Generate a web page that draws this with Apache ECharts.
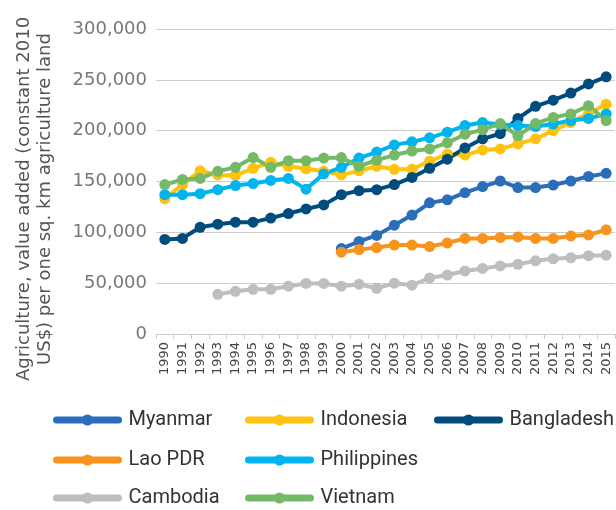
<!DOCTYPE html>
<html>
<head>
<meta charset="utf-8">
<script src="https://cdn.jsdelivr.net/npm/echarts@6/dist/echarts.min.js"></script>
<style>
  html, body { margin: 0; padding: 0; background: #fff; }
  #chart { width: 616px; height: 510px; }
</style>
</head>
<body>
<div id="chart"></div>
<script>
// years on the x axis
var years = ['1990','1991','1992','1993','1994','1995','1996','1997','1998','1999','2000','2001','2002',
             '2003','2004','2005','2006','2007','2008','2009','2010','2011','2012','2013','2014','2015'];

// values (null = no data)
var myanmar = [null,null,null,null,null,null,null,null,null,null,
               84000,91000,97000,107000,117000,129000,132000,139000,145000,150500,144000,144000,146500,150500,155000,158000];
var indonesia = [133000,147000,160500,156500,156000,163000,169000,165000,162500,160000,
                 156500,160500,165000,162000,162000,170000,177000,176000,181000,182000,187000,192000,200000,208000,217000,226000];
var bangladesh = [93000,94000,105000,108000,110000,110000,114000,118500,123000,127000,
                  137000,141000,142000,147000,154000,163000,172000,183000,192000,197000,212000,224000,230000,237000,246000,253000];
var laoPdr = [null,null,null,null,null,null,null,null,null,null,
              80500,83000,85000,87500,87500,86000,89500,94000,94000,95000,95500,94000,94000,96500,97500,102500];
var philippines = [137000,137000,138000,142000,146000,148000,151000,153000,142500,157500,
                   164000,173000,179000,186000,189000,193000,198500,205000,208000,206000,205000,204000,206500,210000,212000,216500];
var cambodia = [null,null,null,39000,42000,44000,44000,47000,49700,49700,
                47000,49000,45000,50000,48000,55000,58000,62000,64500,67000,68500,72000,74000,75000,77000,77500];
var vietnam = [147000,152000,153000,160000,164000,173500,164000,170500,170500,173000,
               173500,165000,171000,176000,180000,182000,188000,196500,201000,207000,195000,207000,213000,216500,224500,210000];

var yTicks = [0, 50000, 100000, 150000, 200000, 250000, 300000];

var chart = echarts.init(document.getElementById('chart'));
var font = 'DejaVu Sans';

function mkSeries(name, data, color) {
    return {
        name: name,
        type: 'line',
        data: data,
        symbol: 'circle',
        symbolSize: 11,
        showSymbol: true,
        connectNulls: false,
        lineStyle: { width: 4, color: color },
        itemStyle: { color: color },
        emphasis: { disabled: true }
    };
}

// one legend per entry so the three columns line up like the original
function mkLegend(left, top, name) {
    return {
        left: left,
        top: top,
        itemWidth: 62,
        itemHeight: 14,
        padding: 0,
        lineStyle: { width: 7, cap: 'round' },
        textStyle: { fontFamily: 'Roboto', fontSize: 20, color: '#333', padding: [0, 0, 0, 5] },
        data: [name]
    };
}

var option = {
    animation: false,
    textStyle: { fontFamily: font },
    grid: { left: 156, right: 1, top: 29, bottom: 176 },
    legend: [
        mkLegend(53, 410, 'Myanmar'),
        mkLegend(245, 410, 'Indonesia'),
        mkLegend(434, 410, 'Bangladesh'),
        mkLegend(53, 450, 'Lao PDR'),
        mkLegend(245, 450, 'Philippines'),
        mkLegend(53, 488, 'Cambodia'),
        mkLegend(245, 488, 'Vietnam')
    ],
    graphic: [{
        type: 'text',
        x: 35,
        y: 199,
        rotation: Math.PI / 2,
        style: {
            text: 'Agriculture, value added (constant 2010\nUS$) per one sq. km agriculture land',
            fontFamily: font,
            fontSize: 18,
            lineHeight: 21,
            fill: '#555',
            align: 'center',
            verticalAlign: 'middle'
        }
    }],
    xAxis: {
        type: 'category',
        data: years,
        boundaryGap: true,
        axisLine: { show: true, lineStyle: { color: '#ccc', width: 1 } },
        axisTick: { show: true, length: 5, lineStyle: { color: '#ccc' } },
        axisLabel: { rotate: 90, fontSize: 13, color: '#444', margin: 8, interval: 0 }
    },
    yAxis: {
        type: 'value',
        min: 0,
        max: 300000,
        interval: 50000,
        axisLine: { show: false },
        axisTick: { show: false },
        splitLine: { lineStyle: { color: '#ccc', width: 1 } },
        axisLabel: {
            fontSize: 18,
            color: '#777',
            margin: 9,
            formatter: function (v) {
                return yTicks.indexOf(v) >= 0 ? v.toLocaleString('en-US') : '';
            }
        }
    },
    series: [
        mkSeries('Myanmar', myanmar, '#2a6ebb'),
        mkSeries('Indonesia', indonesia, '#ffc20e'),
        mkSeries('Bangladesh', bangladesh, '#004c7d'),
        mkSeries('Lao PDR', laoPdr, '#f7941d'),
        mkSeries('Philippines', philippines, '#00b5ef'),
        mkSeries('Cambodia', cambodia, '#bcbec0'),
        mkSeries('Vietnam', vietnam, '#74b966')
    ]
};

chart.setOption(option);
</script>
</body>
</html>
